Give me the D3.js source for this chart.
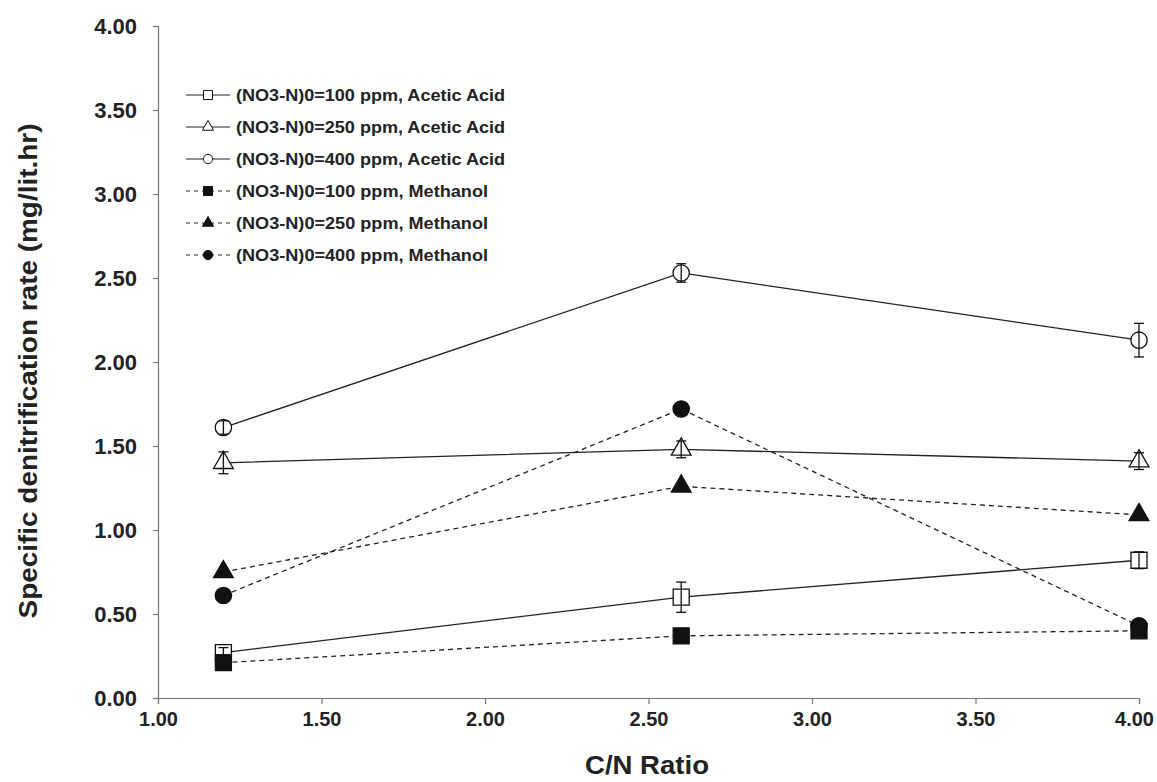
<!DOCTYPE html>
<html>
<head>
<meta charset="utf-8">
<title>Specific denitrification rate</title>
<script src="https://cdn.jsdelivr.net/npm/d3@7/dist/d3.min.js"></script>
<style>
    body {margin: 0; background: #fff;}
    .axis path, .axis line {stroke: #777; stroke-width: 1.2;}
    .ytick text {font: bold 22px "Liberation Sans", Arial, sans-serif; fill: #222;}
    .xtick text {font: bold 20px "Liberation Sans", Arial, sans-serif; fill: #222;}
    .legend text {font: bold 17px "Liberation Sans", Arial, sans-serif; fill: #222;}
</style>
</head>
<body>
<div id="chart"></div>
<script>
// data
const cnRatio = [1.2, 2.6, 4.0];
const aa100 = [0.27, 0.60, 0.82];
const aa100Err = [0.03, 0.09, 0.05];
const aa250 = [1.40, 1.48, 1.41];
const aa250Err = [0.065, 0.05, 0.05];
const aa400 = [1.61, 2.53, 2.13];
const aa400Err = [0.04, 0.055, 0.1];
const me100 = [0.21, 0.37, 0.40];
const me250 = [0.75, 1.26, 1.09];
const me400 = [0.61, 1.72, 0.43];
const xTicks = [1.0, 1.5, 2.0, 2.5, 3.0, 3.5, 4.0];
const yTicks = [0, 0.5, 1.0, 1.5, 2.0, 2.5, 3.0, 3.5, 4.0];
const legendLabels = [
    "(NO3-N)0=100 ppm, Acetic Acid",
    "(NO3-N)0=250 ppm, Acetic Acid",
    "(NO3-N)0=400 ppm, Acetic Acid",
    "(NO3-N)0=100 ppm, Methanol",
    "(NO3-N)0=250 ppm, Methanol",
    "(NO3-N)0=400 ppm, Methanol"
];

const series = [
    {name: legendLabels[0], y: aa100, err: aa100Err, sym: d3.symbolSquare, size: 256, fill: "#fff", dash: null},
    {name: legendLabels[1], y: aa250, err: aa250Err, sym: d3.symbolTriangle, size: 170, fill: "#fff", dash: null},
    {name: legendLabels[2], y: aa400, err: aa400Err, sym: d3.symbolCircle, size: 210, fill: "#fff", dash: null},
    {name: legendLabels[3], y: me100, err: null, sym: d3.symbolSquare, size: 256, fill: "#111", dash: "5,4"},
    {name: legendLabels[4], y: me250, err: null, sym: d3.symbolTriangle, size: 170, fill: "#111", dash: "5,4"},
    {name: legendLabels[5], y: me400, err: null, sym: d3.symbolCircle, size: 210, fill: "#111", dash: "5,4"}
];

const w = 1157, h = 782;
const margin = {top: 26, left: 158, right: 18, bottom: 84};

const svg = d3.select("#chart").append("svg")
    .attr("width", w)
    .attr("height", h);

const x = d3.scaleLinear().domain([1, 4]).range([margin.left, w - margin.right]);
const y = d3.scaleLinear().domain([0, 4]).range([h - margin.bottom, margin.top]);

// axes
svg.append("g")
    .attr("class", "axis xtick")
    .attr("transform", `translate(0,${h - margin.bottom})`)
    .call(d3.axisBottom(x).tickValues(xTicks).tickFormat(d3.format(".2f")).tickSizeOuter(0).tickSize(6).tickPadding(8))
    .selectAll("text")
    .attr("dx", d => d === 4 ? -5 : 0);

svg.append("g")
    .attr("class", "axis ytick")
    .attr("transform", `translate(${margin.left},0)`)
    .call(d3.axisLeft(y).tickValues(yTicks).tickFormat(d3.format(".2f")).tickSizeOuter(0).tickSize(5).tickPadding(16));

// axis titles
svg.append("text")
    .attr("x", 647)
    .attr("y", 774)
    .attr("text-anchor", "middle")
    .attr("textLength", 124)
    .attr("lengthAdjust", "spacingAndGlyphs")
    .style("font", 'bold 26px "Liberation Sans", Arial, sans-serif')
    .style("fill", "#222")
    .text("C/N Ratio");

svg.append("text")
    .attr("transform", `translate(37,${371}) rotate(-90)`)
    .attr("text-anchor", "middle")
    .attr("textLength", 495)
    .attr("lengthAdjust", "spacingAndGlyphs")
    .style("font", 'bold 25px "Liberation Sans", Arial, sans-serif')
    .style("fill", "#222")
    .text("Specific denitrification rate (mg/lit.hr)");

const line = d3.line()
    .x((d, i) => x(cnRatio[i]))
    .y(d => y(d));

const plot = svg.append("g");

series.forEach(s => {
    const g = plot.append("g");
    g.append("path")
        .attr("d", line(s.y))
        .attr("fill", "none")
        .attr("stroke", "#222")
        .attr("stroke-width", 1.3)
        .attr("stroke-dasharray", s.dash);

    g.selectAll(".mk")
        .data(s.y)
        .join("path")
        .attr("class", "mk")
        .attr("transform", (d, i) => `translate(${x(cnRatio[i])},${y(d)})`)
        .attr("d", d3.symbol().type(s.sym).size(s.size))
        .attr("fill", s.fill)
        .attr("stroke", "#111")
        .attr("stroke-width", 1.3);

    if (s.err) {
        const eb = g.selectAll(".eb")
            .data(s.y)
            .join("g")
            .attr("class", "eb")
            .attr("stroke", "#111")
            .attr("stroke-width", 1.3);
        eb.append("line")
            .attr("x1", (d, i) => x(cnRatio[i]))
            .attr("x2", (d, i) => x(cnRatio[i]))
            .attr("y1", (d, i) => y(d + s.err[i]))
            .attr("y2", (d, i) => y(d - s.err[i]));
        [1, -1].forEach(sg => {
            eb.append("line")
                .attr("x1", (d, i) => x(cnRatio[i]) - 5)
                .attr("x2", (d, i) => x(cnRatio[i]) + 5)
                .attr("y1", (d, i) => y(d + sg * s.err[i]))
                .attr("y2", (d, i) => y(d + sg * s.err[i]));
        });
    }
});

// legend
const legend = svg.append("g").attr("class", "legend");
series.forEach((s, i) => {
    const ly = 95 + i * 32;
    const g = legend.append("g");
    g.append("line")
        .attr("x1", 186).attr("x2", 230)
        .attr("y1", ly).attr("y2", ly)
        .attr("stroke", "#222")
        .attr("stroke-width", 1.1)
        .attr("stroke-dasharray", s.dash ? "4,4" : null);
    g.append("path")
        .attr("transform", `translate(208,${ly})`)
        .attr("d", d3.symbol().type(s.sym).size(s.size * 0.32))
        .attr("fill", s.fill)
        .attr("stroke", "#111")
        .attr("stroke-width", 1);
    g.append("text")
        .attr("x", 236)
        .attr("y", ly + 6)
        .attr("textLength", i < 3 ? 269 : 252)
        .attr("lengthAdjust", "spacingAndGlyphs")
        .text(s.name);
});
</script>
</body>
</html>
